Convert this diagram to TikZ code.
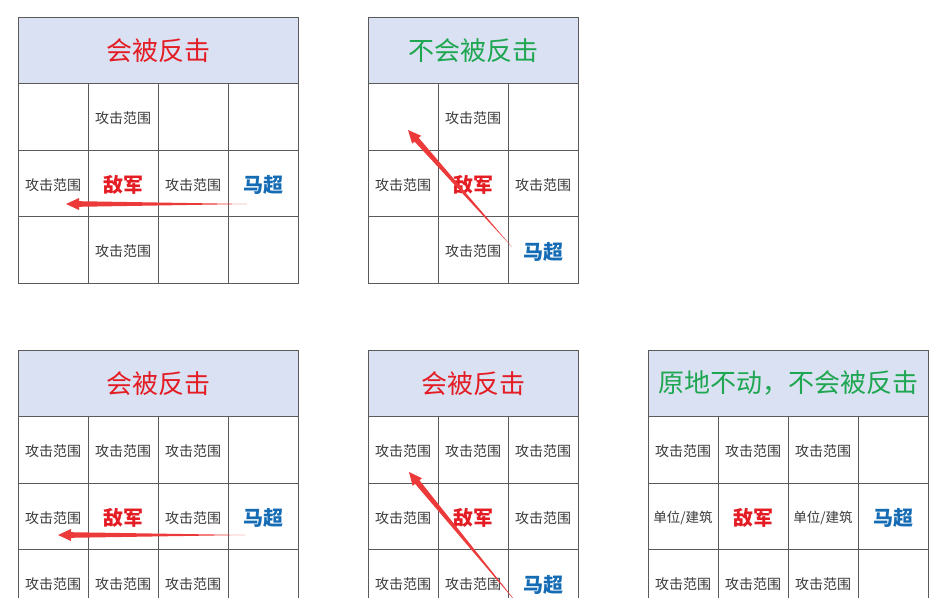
\documentclass[tikz,border=0pt]{standalone}
\usepackage{fontspec}
\usetikzlibrary{calc}
\newfontfamily\cjk{Noto Sans CJK SC}

\definecolor{headfill}{RGB}{217,225,242}
\definecolor{gridgray}{RGB}{90,90,90}
\definecolor{losered}{RGB}{228,28,36}
\definecolor{safegreen}{RGB}{30,166,80}
\definecolor{heroblue}{RGB}{22,108,180}
\definecolor{arrowred}{RGB}{236,58,58}

% tapered red arrow from (#1-tail) to (#1-tip)
\newcommand{\taperarrow}[1]{%
  \coordinate (#1-base) at ($(#1-tip)!13pt!(#1-tail)$);
  \fill[arrowred] (#1-tail) -- ($(#1-base)!2.8pt!90:(#1-tip)$) -- ($(#1-base)!6pt!90:(#1-tip)$)
    -- (#1-tip) -- ($(#1-base)!6pt!-90:(#1-tip)$) -- ($(#1-base)!2.8pt!-90:(#1-tip)$) -- cycle;}

\begin{document}
\begin{tikzpicture}[x=1pt,y=-1pt]
    \tikzstyle{cell}=[draw=gridgray,line width=0.9pt,minimum width=70pt,minimum height=66.5pt,inner sep=0pt]
    \tikzstyle{headbox}=[cell,fill=headfill,font=\cjk\fontsize{26}{30}\selectfont]
    \tikzstyle{rangetext}=[inner sep=0pt,yshift=-1.5pt,text=black!78,font=\cjk\fontsize{14}{16}\selectfont]
    \tikzstyle{unittext}=[rangetext,font=\cjk\fontsize{13.5}{16}\selectfont]
    \tikzstyle{enemytext}=[inner sep=0pt,yshift=-2pt,text=losered,font=\cjk\bfseries\fontsize{20}{24}\selectfont]
    \tikzstyle{herotext}=[enemytext,text=heroblue]

    \useasboundingbox (0,0) rectangle (945,597);
    \clip (0,0) rectangle (945,597);

    % Draw the grid cells of every panel
    \foreach \p/\x/\y/\n in {A/18/17/4, B/368/17/3, C/18/350/4, D/368/350/3, E/648/350/4}
        \foreach \r in {1,2,3}
            \foreach \c in {1,...,\n}
                \node[cell] (\p-\c-\r) at (\x+70*\c-35, \y+66.5*\r+33.25) {};

    % Draw the headers
    \node[headbox, minimum width=280pt, text=losered] (A-h) at (158,50.25) {会被反击};
    \node[headbox, minimum width=210pt, text=safegreen] (B-h) at (473,50.25) {不会被反击};
    \node[headbox, minimum width=280pt, text=losered] (C-h) at (158,383.25) {会被反击};
    \node[headbox, minimum width=210pt, text=losered] (D-h) at (473,383.25) {会被反击};
    \node[headbox, minimum width=280pt, text=safegreen] (E-h) at (788,383.25) {原地不动，不会被反击};

    % Fill in the cells
    \foreach \name in {A-2-1,A-1-2,A-3-2,A-2-3, B-2-1,B-1-2,B-3-2,B-2-3,
                       C-1-1,C-2-1,C-3-1,C-1-2,C-3-2,C-1-3,C-2-3,C-3-3,
                       D-1-1,D-2-1,D-3-1,D-1-2,D-3-2,D-1-3,D-2-3,
                       E-1-1,E-2-1,E-3-1,E-1-3,E-2-3,E-3-3}
        \node[rangetext] (t-\name) at (\name) {攻击范围};
    \foreach \name in {E-1-2,E-3-2}
        \node[unittext] (t-\name) at (\name) {单位/建筑};
    \foreach \name in {A-2-2,B-2-2,C-2-2,D-2-2,E-2-2}
        \node[enemytext] (t-\name) at (\name) {敌军};
    \foreach \name in {A-4-2,B-3-3,C-4-2,D-3-3,E-4-2}
        \node[herotext] (t-\name) at (\name) {马超};

    % Draw the moves
    \coordinate (A-tail) at (247,204);
    \coordinate (A-tip) at (66,204);
    \coordinate (B-tail) at (512,247);
    \coordinate (B-tip) at (408,130);
    \coordinate (C-tail) at (245,535);
    \coordinate (C-tip) at (58,535);
    \coordinate (D-tail) at (521,608);
    \coordinate (D-tip) at (409,472);
    \foreach \p in {A,B,C,D}
        \taperarrow{\p};
\end{tikzpicture}
\end{document}
